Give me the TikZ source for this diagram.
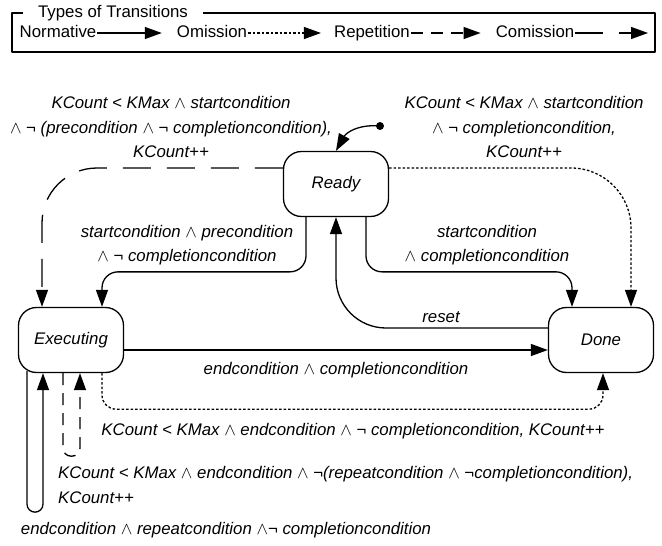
\documentclass[tikz,border=0pt]{standalone}
\usepackage{fontspec}
\setmainfont{Liberation Sans}
\usepackage{tikz}
\usetikzlibrary{positioning,calc,arrows.meta}

\begin{document}
\begin{tikzpicture}[x=1pt,y=-1pt, line join=round,
				>={Triangle[length=17pt,width=12pt]},
				every node/.style={font=\fontsize{16.8}{24.5}\selectfont},
				state/.style={draw, line width=1.3pt, rounded corners=18pt,
					minimum width=105pt, minimum height=65pt, inner sep=0pt,
					font=\fontsize{16.8}{24.5}\selectfont\itshape},
				lbl/.style={font=\fontsize{16.8}{24.5}\selectfont\itshape, align=center, inner sep=0pt},
				legtext/.style={inner sep=1pt, text height=12pt, text depth=3.5pt},
				trans/.style={->, line width=1.3pt, rounded corners=#1},
				trans/.default=16pt,
				omission/.style={dash pattern=on 2.5pt off 2pt},
				repetition/.style={dash pattern=on 12pt off 8pt},
				comission/.style={dash pattern=on 28pt off 16pt}]
				
				\def\andop{\ensuremath{\wedge}}
				\useasboundingbox (0,0) rectangle (662,546);
				
				% ---- legend box
				\draw[line width=1.2pt] (12,13) rectangle (655,52);
				\node[fill=white, inner xsep=15pt, inner ysep=1pt] (legtitle) at (113,13) {Types of Transitions};
				
				\node[legtext] (norm) at (58,33) {Normative};
				\node[legtext] (omis) at (212,33) {Omission};
				\node[legtext] (rep)  at (372,33) {Repetition};
				\node[legtext] (com)  at (535,33) {Comission};
				\coordinate (legend end) at (655,33);
				
				\draw[->, line width=1.2pt, shorten >=14pt] (norm) -- (omis);
				\draw[->, line width=1.2pt, omission, shorten >=12pt] (omis) -- (rep);
				\draw[->, line width=1.2pt, repetition, shorten >=14pt] (rep) -- (com);
				\draw[->, line width=1.2pt, comission, shorten >=7pt] (com) -- (legend end);
				
				% ---- states
				\node[state] (ready) at (336,184) {Ready};
				\node[state] (exec)  at (71,340)  {Executing};
				\node[state] (done)  at (601,340) {Done};
				
				% initial marker
				\coordinate (init) at (380,126);
				\fill (init) circle (4pt);
				\draw[->, line width=1.3pt] (init) .. controls (358,124) and (346,133) .. (ready.north);
				
				% ---- Ready -> Executing
				\draw[trans=55pt, comission] ($(ready.west)+(0,-16)$) -| ($(exec.north)+(-29,0)$);
				\node[lbl] (lblRErep) at (171,127)
				{KCount < KMax \andop{} startcondition\\
					\andop{} ¬ (precondition \andop{} ¬ completioncondition),\\
					KCount++};
				
				\draw[trans] ($(ready.south)+(-30,0)$) |- ($(exec.north)+(31,-35)$) -- ($(exec.north)+(31,0)$);
				\node[lbl] (lblREnorm) at (187,245)
				{startcondition \andop{} precondition\\ \andop{} ¬ completioncondition};
				
				% ---- Ready -> Done
				\draw[trans] ($(ready.south)+(30,0)$) |- ($(done.north)+(-29,-35)$) -- ($(done.north)+(-29,0)$);
				\node[lbl] (lblRDnorm) at (487,245)
				{startcondition\\ \andop{} completioncondition};
				
				\draw[trans=60pt, omission] ($(ready.east)+(0,-16)$) -| ($(done.north)+(30,0)$);
				\node[lbl] (lblRDom) at (524,127)
				{KCount < KMax \andop{} startcondition\\
					\andop{} ¬ completioncondition,\\
					KCount++};
				
				% ---- Done -> Ready (reset)
				\draw[trans=50pt] ($(done.west)+(0,-12)$) -| (ready.south);
				\node[lbl] (lblreset) at (441,317) {reset};
				
				% ---- Executing -> Done
				\draw[trans] ($(exec.east)+(0,10)$) -- ($(done.west)+(0,10)$);
				\node[lbl] (lblEDnorm) at (336,370) {endcondition \andop{} completioncondition};
				
				\draw[trans=14pt, omission] ($(exec.south)+(31,0)$) |- ($(done.south)+(2,36)$) -- ($(done.south)+(2,0)$);
				\node[lbl] (lblEDom) at (353,431)
				{KCount < KMax \andop{} endcondition \andop{} ¬ completioncondition, KCount++};
				
				% ---- Executing self loops
				\draw[trans=8pt, repetition] ($(exec.south)+(-8,0)$) -- ++(0,83) -| ($(exec.south)+(9,0)$);
				\node[lbl, align=left, anchor=west] (lblEErep) at (58,485)
				{KCount < KMax \andop{} endcondition \andop{} ¬(repeatcondition \andop{} ¬completioncondition),\\
					KCount++};
				
				\draw[trans=8pt] ($(exec.south)+(-44,-2)$) -- ++(0,141) -| ($(exec.south)+(-28,0)$);
				\node[lbl] (lblEEnorm) at (226,530)
				{endcondition \andop{} repeatcondition \andop¬ completioncondition};
				
			\end{tikzpicture}
\end{document}
